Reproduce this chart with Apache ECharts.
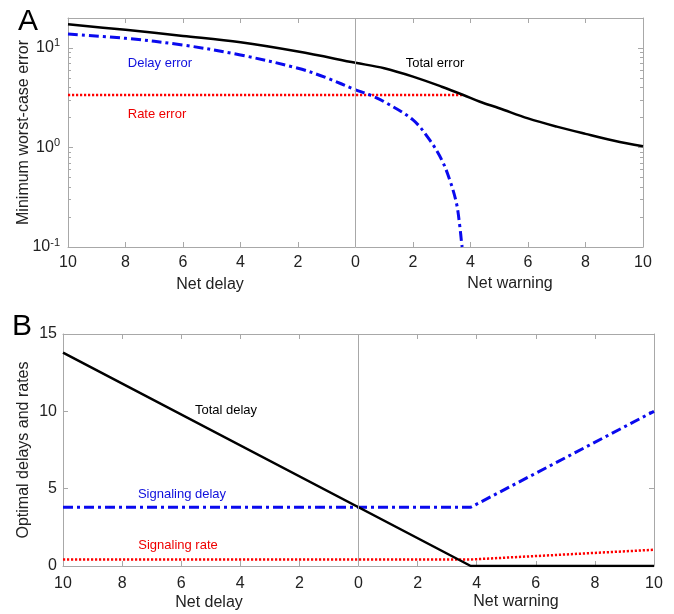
<!DOCTYPE html>
<html>
<head>
<meta charset="utf-8">
<script src="https://cdn.jsdelivr.net/npm/echarts@6/dist/echarts.min.js"></script>
<style>
html, body { margin: 0; padding: 0; background: #fff; }
#chart { width: 674px; height: 614px; }
</style>
</head>
<body>
<div id="chart"></div>
<script>
// panel A: minimum worst-case error (negative x = net delay, positive x = net warning)
var totalErrX = [-10, -8, -6, -4, -2, 0, 1, 2, 3, 3.75, 4.33, 5, 6, 7, 8, 9, 10];
var totalErr  = [17.3, 15.2, 13.2, 11.4, 9.2, 7.1, 6.25, 5.15, 4.08, 3.37, 2.88, 2.48, 1.96, 1.62, 1.37, 1.17, 1.03];
var delayErrX = [-10, -8, -6, -4, -2, -1, 0, 0.5, 1, 2, 2.58, 3, 3.28, 3.51, 3.63, 3.69, 3.71];
var delayErr  = [13.8, 12.5, 10.7, 8.5, 6.25, 5.0, 3.8, 3.37, 2.88, 1.89, 1.19, 0.75, 0.47, 0.277, 0.16, 0.11, 0.1];
var rateErrX  = [-10, 3.75];
var rateErr   = [3.37, 3.37];
var logMinorTicks = [0.2, 0.3, 0.4, 0.5, 0.6, 0.7, 0.8, 0.9, 2, 3, 4, 5, 6, 7, 8, 9];

// panel B: optimal delays and rates
var optX       = [-10, 3.8, 10];
var totalDelay = [13.8, 0, 0];
var sigDelay   = [3.8, 3.8, 10];
var sigRate    = [0.42, 0.42, 1.05];

var FONT = 'Liberation Sans, Arial, sans-serif';
var AXIS_GRAY = '#a8a8a8';
var TXT = '#222';

function zip (xs, ys) {
  var out = [];
  for (var i = 0; i < xs.length; i++) out.push([xs[i], ys[i]]);
  return out;
}

function xAx (grid, pos, labels, margin) {
  return {
    type: 'value', gridIndex: grid, position: pos,
    min: -10, max: 10, interval: 2,
    axisLine: { show: true, onZero: false, lineStyle: { color: AXIS_GRAY, width: 1 } },
    axisTick: { show: true, inside: true, length: 5, lineStyle: { color: AXIS_GRAY } },
    axisLabel: {
      show: labels, color: TXT, fontSize: 16, fontFamily: FONT, margin: margin,
      formatter: function (v) { return String(Math.abs(v)); }
    },
    splitLine: { show: false }
  };
}

function logLabel (v) {
  var k = Math.round(Math.log10(v));
  if (Math.abs(v - Math.pow(10, k)) > 1e-6 * Math.pow(10, k)) return '';
  return '{b|10}{s|' + k + '}';
}

// extra log axis carrying only the short minor ticks
function minorLogAx (pos) {
  return {
    type: 'log', gridIndex: 0, position: pos, min: 0.1, max: 20, logBase: 10,
    axisLine: { show: false, onZero: false },
    axisTick: { show: true, inside: true, length: 3, customValues: logMinorTicks, lineStyle: { color: AXIS_GRAY } },
    axisLabel: { show: false }, splitLine: { show: false }
  };
}

var zeroLine = {
  silent: true, symbol: 'none', label: { show: false },
  lineStyle: { color: AXIS_GRAY, width: 1, type: 'solid' },
  data: [{ xAxis: 0 }]
};

var series = [];
series.push({
  type: 'line', xAxisIndex: 0, yAxisIndex: 0, data: zip(rateErrX, rateErr),
  showSymbol: false, lineStyle: { color: '#ff0000', width: 2.5, type: [2.2, 1.8] },
  markLine: zeroLine
});
series.push({
  type: 'line', xAxisIndex: 0, yAxisIndex: 0, data: zip(delayErrX, delayErr),
  showSymbol: false, smooth: 0.35,
  lineStyle: { color: '#0a0aee', width: 3, type: [10, 4, 3, 4] }
});
series.push({
  type: 'line', xAxisIndex: 0, yAxisIndex: 0, data: zip(totalErrX, totalErr),
  showSymbol: false, smooth: 0.35,
  lineStyle: { color: '#000', width: 2.5 }
});
series.push({
  type: 'line', xAxisIndex: 2, yAxisIndex: 2, data: zip(optX, sigRate),
  showSymbol: false, lineStyle: { color: '#ff0000', width: 2.5, type: [2.2, 1.8] },
  markLine: zeroLine
});
series.push({
  type: 'line', xAxisIndex: 2, yAxisIndex: 2, data: zip(optX, sigDelay),
  showSymbol: false, lineStyle: { color: '#0a0aee', width: 3, type: [10, 4, 3, 4] }
});
series.push({
  type: 'line', xAxisIndex: 2, yAxisIndex: 2, data: zip(optX, totalDelay),
  showSymbol: false, lineStyle: { color: '#000', width: 2.5 }
});

function txt (x, y, s, size, color, align) {
  return {
    type: 'text', x: x, y: y, silent: true,
    style: {
      text: s, fontSize: size, fill: color, fontFamily: FONT,
      align: align || 'center', verticalAlign: 'middle'
    }
  };
}

var option = {
  animation: false,
  backgroundColor: '#fff',
  grid: [
    { left: 68, top: 18, width: 575, height: 229 },
    { left: 63, top: 334, width: 591, height: 232 }
  ],
  xAxis: [xAx(0, 'bottom', true, 8), xAx(0, 'top', false, 8), xAx(1, 'bottom', true, 10), xAx(1, 'top', false, 8)],
  yAxis: [
    {
      type: 'log', gridIndex: 0, position: 'left', min: 0.1, max: 20, logBase: 10,
      name: 'Minimum worst-case error', nameLocation: 'middle', nameGap: 36, nameMoveOverlap: false,
      nameTextStyle: { fontSize: 16, color: TXT, fontFamily: FONT },
      axisLine: { show: true, onZero: false, lineStyle: { color: AXIS_GRAY } },
      axisTick: { show: true, inside: true, length: 5, lineStyle: { color: AXIS_GRAY } },
      axisLabel: {
        color: TXT, margin: 8, formatter: logLabel,
        rich: {
          b: { fontSize: 16, fontFamily: FONT, color: TXT },
          s: { fontSize: 11, fontFamily: FONT, color: TXT, padding: [0, 0, 9, 0] }
        }
      },
      splitLine: { show: false }
    },
    {
      type: 'log', gridIndex: 0, position: 'right', min: 0.1, max: 20, logBase: 10,
      axisLine: { show: true, onZero: false, lineStyle: { color: AXIS_GRAY } },
      axisTick: { show: true, inside: true, length: 5, lineStyle: { color: AXIS_GRAY } },
      axisLabel: { show: false }, splitLine: { show: false }
    },
    {
      type: 'value', gridIndex: 1, position: 'left', min: 0, max: 15, interval: 5,
      name: 'Optimal delays and rates', nameLocation: 'middle', nameGap: 31, nameMoveOverlap: false,
      nameTextStyle: { fontSize: 16, color: TXT, fontFamily: FONT },
      axisLine: { show: true, onZero: false, lineStyle: { color: AXIS_GRAY } },
      axisTick: { show: true, inside: true, length: 5, lineStyle: { color: AXIS_GRAY } },
      axisLabel: { color: TXT, fontSize: 16, fontFamily: FONT, margin: 6 },
      splitLine: { show: false }
    },
    {
      type: 'value', gridIndex: 1, position: 'right', min: 0, max: 15, interval: 5,
      axisLine: { show: true, onZero: false, lineStyle: { color: AXIS_GRAY } },
      axisTick: { show: true, inside: true, length: 5, lineStyle: { color: AXIS_GRAY } },
      axisLabel: { show: false }, splitLine: { show: false }
    },
    minorLogAx('left'),
    minorLogAx('right')
  ],
  graphic: [
    txt(18, 22, 'A', 30, '#000', 'left'),
    txt(12, 327, 'B', 30, '#000', 'left'),
    txt(210, 285, 'Net delay', 16, TXT),
    txt(510, 284, 'Net warning', 16, TXT),
    txt(209, 603, 'Net delay', 16, TXT),
    txt(516, 602, 'Net warning', 16, TXT),
    txt(160, 63, 'Delay error', 13, '#1010dd'),
    txt(157, 114, 'Rate error', 13, '#ee0000'),
    txt(435, 63, 'Total error', 13, '#000'),
    txt(226, 410, 'Total delay', 13, '#000'),
    txt(182, 494, 'Signaling delay', 13, '#1010dd'),
    txt(178, 545, 'Signaling rate', 13, '#ee0000')
  ],
  series: series
};

var chart = echarts.init(document.getElementById('chart'));
chart.setOption(option);
</script>
</body>
</html>
